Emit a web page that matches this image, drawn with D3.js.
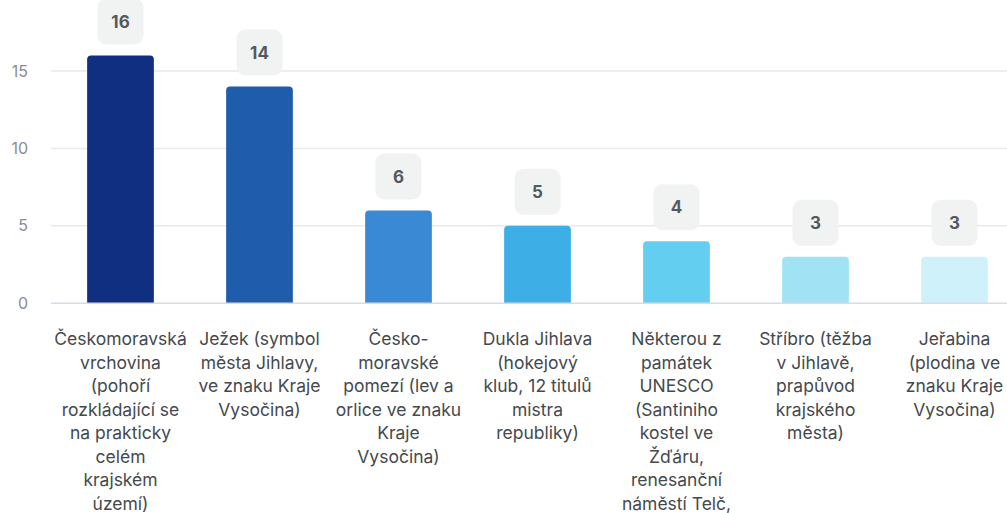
<!DOCTYPE html>
<html>
<head>
<meta charset="utf-8">
<script src="https://d3js.org/d3.v7.min.js"></script>
<style>
  html, body { margin: 0; padding: 0; background: #fff; }
  svg { display: block; }
</style>
</head>
<body>
<script>
// category labels, split into the lines they are shown on
var categories = [
  ['Českomoravská', 'vrchovina', '(pohoří', 'rozkládající se', 'na prakticky', 'celém', 'krajském', 'území)'],
  ['Ježek (symbol', 'města Jihlavy,', 've znaku Kraje', 'Vysočina)'],
  ['Česko-', 'moravské', 'pomezí (lev a', 'orlice ve znaku', 'Kraje', 'Vysočina)'],
  ['Dukla Jihlava', '(hokejový', 'klub, 12 titulů', 'mistra', 'republiky)'],
  ['Některou z', 'památek', 'UNESCO', '(Santiniho', 'kostel ve', 'Žďáru,', 'renesanční', 'náměstí Telč,'],
  ['Stříbro (těžba', 'v Jihlavě,', 'prapůvod', 'krajského', 'města)'],
  ['Jeřabina', '(plodina ve', 'znaku Kraje', 'Vysočina)']
];
var values = [16, 14, 6, 5, 4, 3, 3];
var barColors = ['#112f80', '#1f5cab', '#3a89d4', '#3daee6', '#63cef0', '#a1e2f5', '#cff1fa'];
var yTicks = [0, 5, 10, 15];

var W = 1007, H = 513;
var font = 'Inter, "Noto Sans", sans-serif';
var keys = categories.map(function (c) { return c.join(' '); });

var svg = d3.select('body').append('svg').attr('width', W).attr('height', H);

var x = d3.scaleBand().domain(keys).range([51, 1024]).paddingInner(0.52).paddingOuter(0.26);
var y = d3.scaleLinear().domain([0, 15]).range([303.3, 71]);

// grid
svg.append('g').selectAll('line')
  .data(yTicks.filter(function (t) { return t > 0; }))
  .enter().append('line')
  .attr('x1', 51).attr('x2', W)
  .attr('y1', function (d) { return y(d); }).attr('y2', function (d) { return y(d); })
  .attr('stroke', '#e9e9eb').attr('stroke-width', 1.5);

// y axis labels
var yAxis = svg.append('g')
  .attr('transform', 'translate(28,0)')
  .call(d3.axisLeft(y).tickValues(yTicks).tickSize(0).tickPadding(0));
yAxis.select('.domain').remove();
yAxis.selectAll('text')
  .style('font-family', font).style('font-size', '16px').attr('fill', '#8a8d92');

// bars with rounded top
function barPath(x0, w, yTop, yBot, r) {
  return 'M' + x0 + ',' + yBot +
    'V' + (yTop + r) +
    'Q' + x0 + ',' + yTop + ' ' + (x0 + r) + ',' + yTop +
    'H' + (x0 + w - r) +
    'Q' + (x0 + w) + ',' + yTop + ' ' + (x0 + w) + ',' + (yTop + r) +
    'V' + yBot + 'Z';
}

svg.append('g').selectAll('path')
  .data(keys)
  .enter().append('path')
  .attr('d', function (d, i) { return barPath(x(d), x.bandwidth(), y(values[i]), y(0), 4); })
  .attr('fill', function (d, i) { return barColors[i]; });

// zero line
svg.append('line')
  .attr('x1', 51).attr('x2', W).attr('y1', y(0)).attr('y2', y(0))
  .attr('stroke', '#d7dbe9').attr('stroke-width', 1.5);

// value label boxes
var lab = svg.append('g').selectAll('g')
  .data(keys)
  .enter().append('g')
  .attr('transform', function (d, i) {
    return 'translate(' + (x(d) + x.bandwidth() / 2) + ',' + (y(values[i]) - 11 - 23) + ')';
  });
lab.append('rect')
  .attr('x', -23).attr('y', -23).attr('width', 46).attr('height', 46)
  .attr('rx', 9).attr('fill', '#f1f2f2');
lab.append('text')
  .attr('text-anchor', 'middle').attr('dy', '0.36em')
  .style('font-family', font).style('font-size', '17px').style('font-weight', 700)
  .attr('fill', '#54595f')
  .text(function (d, i) { return values[i]; });

// category labels
var xl = svg.append('g').selectAll('text')
  .data(keys)
  .enter().append('text')
  .attr('text-anchor', 'middle')
  .style('font-family', font).style('font-size', '17.5px')
  .attr('fill', '#45494e')
  .attr('transform', function (d) { return 'translate(' + (x(d) + x.bandwidth() / 2) + ',345)'; });
xl.each(function (d, i) {
  var t = d3.select(this);
  categories[i].forEach(function (line, li) {
    t.append('tspan').attr('x', 0).attr('y', li * 23.5).text(line);
  });
});
</script>
</body>
</html>
